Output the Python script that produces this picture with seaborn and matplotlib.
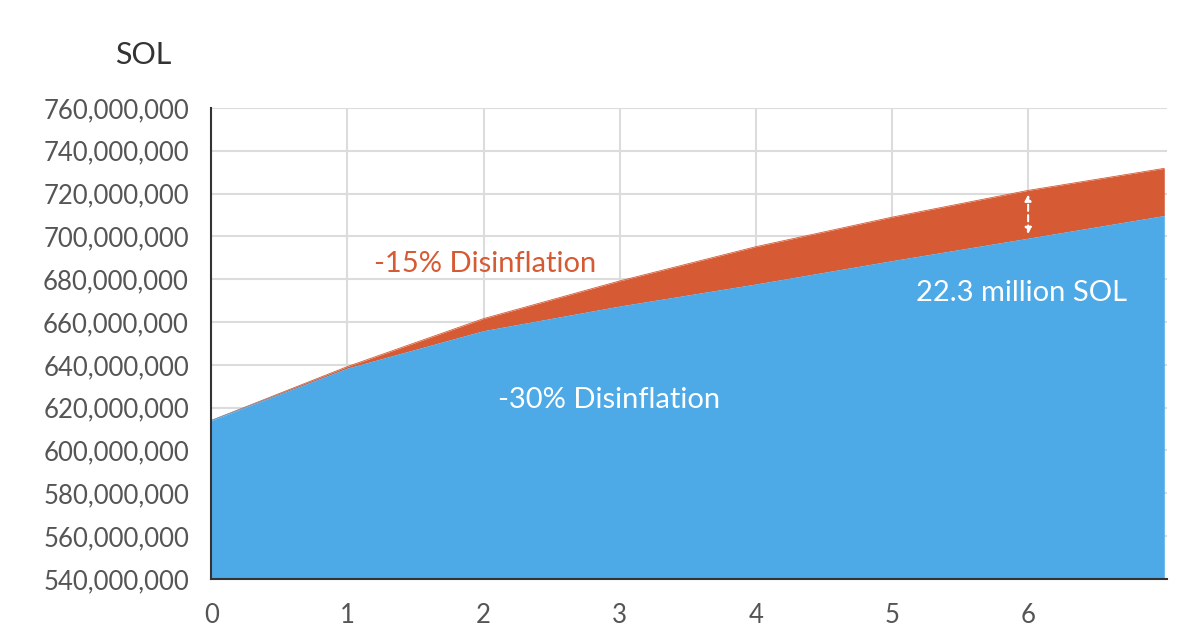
import seaborn as sns
import matplotlib.pyplot as plt
import matplotlib.ticker as mticker
import pandas as pd

sns.set_theme(style = "whitegrid")
plt.rcParams['font.family'] = ['Lato', 'DejaVu Sans']

# Supply In Millions Of SOL Per Year
years = [0, 1, 2, 3, 4, 5, 6, 7]
supply_30 = [614.0, 638.5, 656.0, 667.5, 677.8, 688.7, 699.2, 709.8]
supply_15 = [614.0, 639.2, 661.6, 679.2, 695.2, 709.0, 721.5, 731.8]
y_ticks = list(range(540, 761, 20))

blue = "#4DAAE7"
orange = "#D65A33"

df = pd.DataFrame({"year": years, "s15": [v * 1e6 for v in supply_15],
                   "s30": [v * 1e6 for v in supply_30]})

f, ax = plt.subplots(figsize = (12, 6.39), dpi = 100)
f.subplots_adjust(left = 0.176, right = 0.9725, top = 0.831, bottom = 0.094)

# Stacked Areas
sns.lineplot(data = df, x = "year", y = "s15", color = orange, linewidth = 0.6, ax = ax)
sns.lineplot(data = df, x = "year", y = "s30", color = blue, linewidth = 0.6, ax = ax)
ax.fill_between(df["year"], df["s30"], df["s15"], color = orange, linewidth = 0, zorder = 2)
ax.fill_between(df["year"], 540e6, df["s30"], color = blue, linewidth = 0, zorder = 3)

# Gap Arrow At Year 6
ax.annotate("", xy = (6, df["s15"][6] - 0.6e6), xytext = (6, df["s30"][6] + 0.6e6),
            arrowprops = dict(arrowstyle = "<|-|>", color = "white", lw = 1.5,
                              linestyle = (0, (3, 2)), mutation_scale = 9),
            zorder = 5)

ax.text(2.01, 687e6, "-15% Disinflation", color = orange, fontsize = 21,
        ha = "center", va = "center", zorder = 5)
ax.text(2.92, 623.5e6, "-30% Disinflation", color = "white", fontsize = 21,
        ha = "center", va = "center", zorder = 5)
ax.text(5.95, 673.5e6, "22.3 million SOL", color = "white", fontsize = 21,
        ha = "center", va = "center", zorder = 5)

ax.set(xlim = (0, 7.02), ylim = (540e6, 760e6), xlabel = "", ylabel = "")
ax.set_xticks(range(0, 7))
ax.set_yticks([v * 1e6 for v in y_ticks])
ax.yaxis.set_major_formatter(mticker.StrMethodFormatter("{x:,.0f}"))
ax.tick_params(axis = "both", labelsize = 18.5, labelcolor = "#555555", length = 0)
ax.tick_params(axis = "y", pad = 16)
ax.tick_params(axis = "x", pad = 17)
ax.grid(color = "#DCDCDC", linewidth = 1.5)
ax.set_axisbelow(True)

sns.despine(ax = ax, top = True, right = True)
for side in ["left", "bottom"]:
    ax.spines[side].set_color("#333333")
    ax.spines[side].set_linewidth(1.5)
    ax.spines[side].set_zorder(6)

f.text(0.119, 0.914, "SOL", color = "#333333", fontsize = 22, ha = "center", va = "center")

f.savefig("out.png", dpi = 100)
